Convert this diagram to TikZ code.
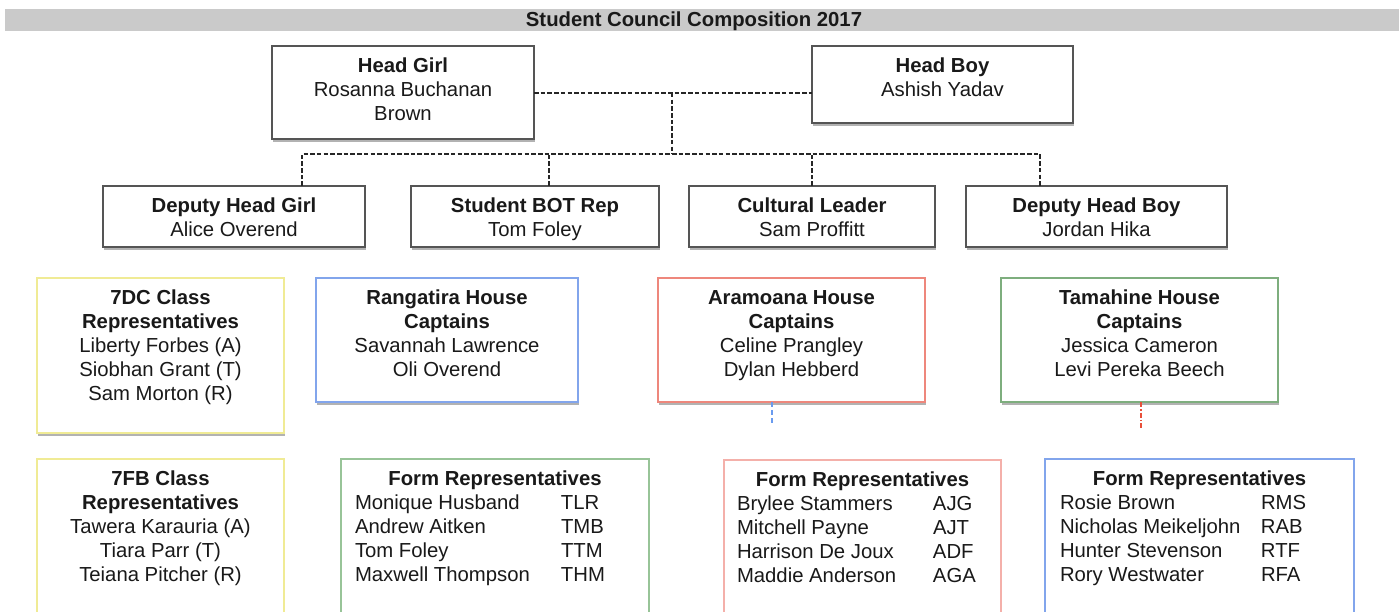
\documentclass[tikz,border=0pt]{standalone}
\usepackage{fontspec}
\setmainfont{Liberation Sans}
\usetikzlibrary{shadows,calc}
\definecolor{bdark}{HTML}{555555}
\definecolor{byel}{HTML}{F0EB95}
\definecolor{bblue}{HTML}{82A5EC}
\definecolor{bred}{HTML}{EE877C}
\definecolor{bredl}{HTML}{F4B0AA}
\definecolor{bgreen}{HTML}{7EAE7E}
\definecolor{bgreenl}{HTML}{98C498}
\definecolor{barcol}{HTML}{CACACA}
\definecolor{stubblue}{HTML}{6A9BEF}
\definecolor{stubred}{HTML}{E8503A}
\newcommand\boxtxt[3]{\parbox[t][#2][t]{#1}{\centering\vspace*{9.7pt}\strut#3\par}}
\newcommand\frow[4]{\makebox[\linewidth][l]{\hspace*{#1}\makebox[#2][l]{#3}#4}}
\begin{document}
\begin{tikzpicture}[x=1pt,y=-1pt,
  every node/.style={font=\fontsize{20.3}{24}\selectfont, text=black!90},
  box/.style={draw=#1, line width=1.4pt, fill=white, inner sep=0pt, outer sep=0pt,
    anchor=north west,
    drop shadow={shadow xshift=0.8pt, shadow yshift=-2.6pt, opacity=0.3, fill=black}},
  box/.default=bdark,
  conn/.style={line width=2.1pt, dash pattern=on 4.5pt off 2.2pt, black!85},
  stub/.style={line width=1.6pt}]
\useasboundingbox (0,0) rectangle (1399,612);
\fill[white] (0,0) rectangle (1399,612);
% title bar
\fill[barcol] (5,9) rectangle (1405,31);
\node[anchor=base, font=\fontsize{20.3}{24}\selectfont\bfseries] (title) at (694,27) {Student Council Composition 2017};
% row 1
\node[box] (hg) at (272,46) {\boxtxt{262pt}{93pt}{\textbf{Head Girl}\\Rosanna Buchanan\\Brown}};
\node[box] (hb) at (812,46) {\boxtxt{261pt}{77pt}{\textbf{Head Boy}\\Ashish Yadav}};
% row 2
\node[box] (dhg) at (103,186) {\boxtxt{262pt}{61pt}{\textbf{Deputy Head Girl}\\Alice Overend}};
\node[box] (bot) at (411,186) {\boxtxt{248pt}{61pt}{\textbf{Student BOT Rep}\\Tom Foley}};
\node[box] (cul) at (689,186) {\boxtxt{246pt}{61pt}{\textbf{Cultural Leader}\\Sam Proffitt}};
\node[box] (dhb) at (966,186) {\boxtxt{261pt}{61pt}{\textbf{Deputy Head Boy}\\Jordan Hika}};
% connectors
\coordinate (jn) at (672,93);
\coordinate (bus) at (672,154);
\draw[conn] (hg.east |- jn) -- (hb.west |- jn);
\draw[conn] (jn) -- (bus);
\draw[conn] ([xshift=68pt]dhg.north) |- (bus) -| ([xshift=-56.5pt]dhb.north);
\draw[conn] ([xshift=14pt]bot.north) -- ([xshift=14pt]bot.north |- bus);
\draw[conn] (cul.north) -- (cul.north |- bus);
% row 3
\node[box=byel] (dc7) at (37,278) {\boxtxt{247pt}{155pt}{\textbf{7DC Class}\\\textbf{Representatives}\\Liberty Forbes (A)\\Siobhan Grant (T)\\Sam Morton (R)}};
\node[box=bblue] (ran) at (316,278) {\boxtxt{262pt}{124pt}{\textbf{Rangatira House}\\\textbf{Captains}\\Savannah Lawrence\\Oli Overend}};
\node[box=bred] (ara) at (658,278) {\boxtxt{267pt}{124pt}{\textbf{Aramoana House}\\\textbf{Captains}\\Celine Prangley\\Dylan Hebberd}};
\node[box=bgreen] (tam) at (1001,278) {\boxtxt{277pt}{124pt}{\textbf{Tamahine House}\\\textbf{Captains}\\Jessica Cameron\\Levi Pereka Beech}};
\coordinate (sb) at ([xshift=-19.5pt]ara.south);
\coordinate (sr) at ([xshift=1.5pt]tam.south);
\coordinate (sbe) at ($(sb)+(0,21)$);
\coordinate (sre) at ($(sr)+(0,27)$);
\draw[stub, stubblue, dash pattern=on 5pt off 3pt] (sb) -- (sbe);
\draw[stub, stubred, dash pattern=on 5pt off 2pt on 1.5pt off 2pt] (sr) -- (sre);
% row 4
\node[box=byel] (fb7) at (37,459) {\boxtxt{247pt}{175pt}{\textbf{7FB Class}\\\textbf{Representatives}\\Tawera Karauria (A)\\Tiara Parr (T)\\Teiana Pitcher (R)}};
\node[box=bgreenl] (fg) at (341,459) {\boxtxt{308pt}{175pt}{\textbf{Form Representatives}\\
  \frow{14pt}{206pt}{Monique Husband}{TLR}\\
  \frow{14pt}{206pt}{Andrew Aitken}{TMB}\\
  \frow{14pt}{206pt}{Tom Foley}{TTM}\\
  \frow{14pt}{206pt}{Maxwell Thompson}{THM}}};
\node[box=bredl] (fr) at (724,460) {\boxtxt{277pt}{175pt}{\textbf{Form Representatives}\\
  \frow{13pt}{196pt}{Brylee Stammers}{AJG}\\
  \frow{13pt}{196pt}{Mitchell Payne}{AJT}\\
  \frow{13pt}{196pt}{Harrison De Joux}{ADF}\\
  \frow{13pt}{196pt}{Maddie Anderson}{AGA}}};
\node[box=bblue] (fbl) at (1045,459) {\boxtxt{309pt}{175pt}{\textbf{Form Representatives}\\
  \frow{15pt}{201pt}{Rosie Brown}{RMS}\\
  \frow{15pt}{201pt}{Nicholas Meikeljohn}{RAB}\\
  \frow{15pt}{201pt}{Hunter Stevenson}{RTF}\\
  \frow{15pt}{201pt}{Rory Westwater}{RFA}}};
\end{tikzpicture}
\end{document}
